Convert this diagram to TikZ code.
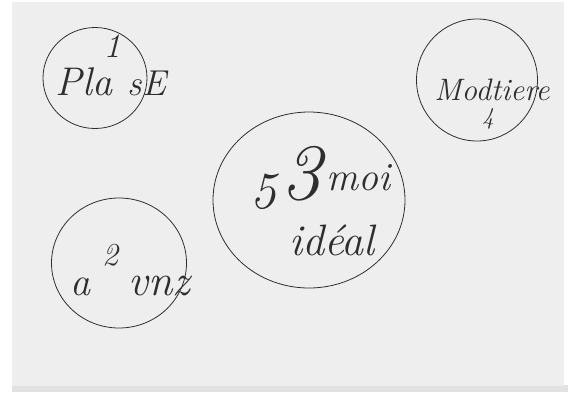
\documentclass[tikz,border=0pt]{standalone}
\usetikzlibrary{shapes.geometric}
\definecolor{paper}{HTML}{EEEEEE}
\definecolor{ink}{HTML}{2E2E2E}
\definecolor{strip}{HTML}{E2E2E2}
\tikzset{
  bubble/.style={draw=ink, line width=0.8pt, ellipse, inner sep=0pt},
  hand/.style={text=ink, inner sep=0pt, font=\itshape},
}
\begin{document}
\begin{tikzpicture}[x=1pt,y=-1pt]
\useasboundingbox (0,0) rectangle (568,392);
\fill[white] (0,0) rectangle (568,392);
\fill[strip] (12,385) rectangle (568,392);
\fill[paper] (12,2) rectangle (564,386);

% circles
\node[bubble, minimum width=104pt, minimum height=101pt] (c1) at (95,78) {};
\node[bubble, minimum width=121pt, minimum height=122pt] (c4) at (477,80) {};
\node[bubble, minimum width=192pt, minimum height=176pt] (c3) at (309,200) {};
\node[bubble, minimum width=135pt, minimum height=130pt] (c2) at (119,263) {};

% circle 1 texts
\node[hand, font=\itshape\fontsize{40}{40}\selectfont] (t1a) at (84,82) {Pla};
\node[hand, font=\itshape\fontsize{34}{34}\selectfont] (t1b) at (112,46) {1};
\node[hand, font=\itshape\fontsize{36}{36}\selectfont] (t1c) at (147,83) {sE};

% circle 4 texts
\node[hand, font=\itshape\fontsize{31}{31}\selectfont] (t4a) at (492,90) {Modtiere};
\node[hand, font=\itshape\fontsize{24}{24}\selectfont] (t4b) at (488,119) {4};

% circle 3 texts
\node[hand, font=\itshape\fontsize{80}{80}\selectfont] (t3a) at (301,174) {3};
\node[hand, font=\itshape\fontsize{52}{52}\selectfont] (t3b) at (263,192) {5};
\node[hand, font=\itshape\fontsize{40}{40}\selectfont] (t3c) at (358,178) {moi};
\node[hand, font=\itshape\fontsize{44}{44}\selectfont] (t3d) at (332,240) {idéal};

% circle 2 texts
\node[hand, font=\itshape\fontsize{32}{32}\selectfont] (t2a) at (110,255) {2};
\node[hand, font=\itshape\fontsize{40}{40}\selectfont] (t2b) at (80,287) {a};
\node[hand, font=\itshape\fontsize{44}{44}\selectfont] (t2c) at (159,286) {vnz};
\end{tikzpicture}
\end{document}
